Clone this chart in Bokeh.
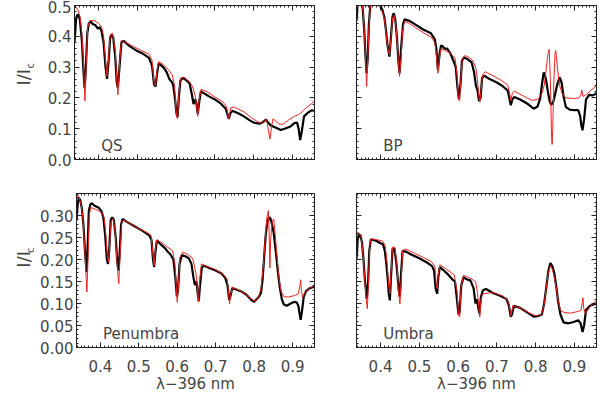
import numpy as np
from bokeh.plotting import figure
from bokeh.layouts import column, row
from bokeh.models import (Label, LinearAxis, SingleIntervalTicker, PrintfTickFormatter,
                          CustomJSTickFormatter, Range1d)
from bokeh.core.properties import value
from bokeh.embed import file_html
from bokeh.resources import INLINE

# ---------------- data (wavelength offset from 396 nm, I/Ic) ----------------
QS_OBS = [(0.338,0.381),(0.342,0.455),(0.345,0.470),(0.349,0.468),(0.352,0.452),(0.357,0.386),
 (0.361,0.290),(0.364,0.232),(0.367,0.290),(0.371,0.410),(0.375,0.443),(0.380,0.447),(0.385,0.440),
 (0.392,0.436),(0.398,0.425),(0.403,0.430),(0.408,0.415),(0.413,0.380),(0.418,0.300),(0.422,0.262),
 (0.426,0.320),(0.430,0.395),(0.434,0.405),(0.438,0.395),(0.443,0.335),(0.447,0.250),(0.450,0.233),
 (0.454,0.300),(0.459,0.380),(0.465,0.385),(0.480,0.368),(0.500,0.352),(0.515,0.343),(0.530,0.330),
 (0.538,0.305),(0.543,0.245),(0.547,0.237),(0.551,0.280),(0.555,0.311),(0.560,0.308),(0.568,0.298),
 (0.576,0.283),(0.583,0.260),(0.587,0.255),(0.592,0.245),(0.597,0.200),(0.601,0.150),(0.604,0.138),
 (0.607,0.200),(0.611,0.255),(0.616,0.265),(0.625,0.259),(0.635,0.247),(0.640,0.215),(0.645,0.180),
 (0.649,0.195),(0.652,0.185),(0.656,0.148),(0.660,0.190),(0.664,0.222),(0.672,0.215),(0.685,0.205),
 (0.700,0.195),(0.715,0.182),(0.728,0.165),(0.733,0.145),(0.736,0.132),(0.740,0.150),(0.745,0.158),
 (0.760,0.150),(0.775,0.140),(0.790,0.127),(0.800,0.120),(0.815,0.116),(0.825,0.122),(0.832,0.130),
 (0.837,0.120),(0.845,0.110),(0.855,0.105),(0.870,0.096),(0.880,0.100),(0.895,0.107),(0.905,0.118),
 (0.912,0.120),(0.916,0.100),(0.920,0.063),(0.924,0.090),(0.930,0.140),(0.940,0.152),(0.950,0.160),
 (0.957,0.158)]
QS_SYN = [(0.338,0.490),(0.342,0.495),(0.347,0.485),(0.352,0.465),(0.357,0.410),(0.361,0.320),
 (0.365,0.190),(0.368,0.300),(0.372,0.430),(0.378,0.452),(0.390,0.450),(0.400,0.442),(0.408,0.430),
 (0.413,0.400),(0.418,0.320),(0.422,0.270),(0.426,0.330),(0.430,0.405),(0.436,0.410),(0.443,0.355),
 (0.447,0.260),(0.450,0.210),(0.454,0.310),(0.459,0.387),(0.470,0.380),(0.490,0.367),(0.510,0.354),
 (0.530,0.342),(0.538,0.322),(0.543,0.250),(0.547,0.240),(0.551,0.290),(0.555,0.318),(0.565,0.310),
 (0.580,0.292),(0.590,0.275),(0.596,0.240),(0.601,0.140),(0.604,0.132),(0.607,0.210),(0.611,0.262),
 (0.620,0.268),(0.635,0.252),(0.642,0.238),(0.647,0.218),(0.651,0.195),(0.656,0.140),(0.660,0.200),
 (0.665,0.228),(0.680,0.220),(0.700,0.203),(0.720,0.188),(0.730,0.172),(0.736,0.132),(0.741,0.168),
 (0.750,0.170),(0.775,0.155),(0.795,0.135),(0.810,0.123),(0.822,0.118),(0.830,0.127),(0.834,0.130),
 (0.838,0.095),(0.842,0.066),(0.846,0.105),(0.850,0.132),(0.856,0.126),(0.865,0.115),(0.875,0.114),
 (0.890,0.128),(0.905,0.140),(0.916,0.146),(0.921,0.150),(0.930,0.162),(0.940,0.172),(0.950,0.182),
 (0.957,0.190)]

BP_OBS = [(0.338,0.450),(0.341,0.510),(0.345,0.530),(0.350,0.520),(0.354,0.490),(0.358,0.420),
 (0.361,0.340),(0.364,0.280),(0.367,0.330),(0.370,0.440),(0.374,0.505),(0.380,0.515),(0.390,0.512),
 (0.398,0.505),(0.405,0.485),(0.410,0.460),(0.414,0.420),(0.418,0.370),(0.423,0.334),(0.427,0.400),
 (0.431,0.465),(0.434,0.475),(0.438,0.455),(0.442,0.400),(0.446,0.320),(0.449,0.280),(0.453,0.360),
 (0.458,0.440),(0.462,0.455),(0.475,0.450),(0.490,0.438),(0.510,0.422),(0.530,0.410),(0.540,0.390),
 (0.544,0.360),(0.548,0.290),(0.552,0.340),(0.556,0.370),(0.560,0.368),(0.565,0.360),(0.572,0.360),
 (0.580,0.345),(0.588,0.320),(0.594,0.300),(0.598,0.240),(0.602,0.196),(0.606,0.240),(0.610,0.320),
 (0.615,0.332),(0.625,0.325),(0.635,0.315),(0.641,0.285),(0.646,0.240),(0.650,0.225),(0.654,0.190),
 (0.658,0.200),(0.662,0.265),(0.668,0.272),(0.680,0.262),(0.700,0.250),(0.715,0.238),(0.728,0.224),
 (0.733,0.195),(0.736,0.176),(0.740,0.195),(0.745,0.203),(0.760,0.195),(0.780,0.180),(0.795,0.165),
 (0.805,0.172),(0.812,0.200),(0.817,0.250),(0.821,0.283),(0.826,0.265),(0.831,0.225),(0.836,0.190),
 (0.840,0.178),(0.845,0.185),(0.850,0.210),(0.856,0.245),(0.862,0.267),(0.867,0.250),(0.872,0.205),
 (0.878,0.170),(0.888,0.162),(0.900,0.160),(0.910,0.160),(0.915,0.140),(0.918,0.110),(0.921,0.095),
 (0.925,0.130),(0.930,0.195),(0.938,0.210),(0.948,0.208),(0.957,0.215)]
BP_SYN = [(0.338,0.490),(0.342,0.520),(0.350,0.525),(0.355,0.480),(0.359,0.400),(0.362,0.310),
 (0.364,0.237),(0.367,0.320),(0.370,0.430),(0.374,0.500),(0.385,0.505),(0.395,0.500),(0.405,0.480),
 (0.410,0.455),(0.414,0.415),(0.418,0.365),(0.423,0.340),(0.427,0.395),(0.431,0.460),(0.435,0.468),
 (0.440,0.430),(0.444,0.360),(0.447,0.300),(0.449,0.270),(0.453,0.330),(0.457,0.420),(0.462,0.448),
 (0.475,0.442),(0.490,0.428),(0.510,0.412),(0.530,0.398),(0.540,0.380),(0.544,0.340),(0.548,0.280),
 (0.552,0.330),(0.556,0.360),(0.565,0.355),(0.580,0.345),(0.592,0.330),(0.597,0.280),(0.601,0.195),
 (0.604,0.190),(0.607,0.260),(0.611,0.325),(0.618,0.338),(0.630,0.330),(0.640,0.318),(0.646,0.295),
 (0.650,0.260),(0.654,0.200),(0.656,0.186),(0.659,0.220),(0.663,0.275),(0.670,0.285),(0.690,0.272),
 (0.710,0.258),(0.728,0.242),(0.733,0.215),(0.736,0.190),(0.740,0.215),(0.745,0.222),(0.770,0.205),
 (0.790,0.192),(0.805,0.195),(0.815,0.210),(0.822,0.240),(0.828,0.300),(0.832,0.345),(0.835,0.358),
 (0.838,0.260),(0.841,0.080),(0.8425,0.049),(0.844,0.090),(0.847,0.250),(0.850,0.345),(0.852,0.354),
 (0.856,0.300),(0.862,0.240),(0.868,0.215),(0.878,0.200),(0.900,0.198),(0.912,0.200),(0.916,0.208),
 (0.919,0.226),(0.922,0.205),(0.928,0.208),(0.940,0.222),(0.950,0.232),(0.957,0.240)]

PEN_OBS = [(0.338,0.289),(0.341,0.325),(0.344,0.340),(0.348,0.335),(0.352,0.315),(0.356,0.280),
 (0.360,0.220),(0.364,0.171),(0.367,0.230),(0.370,0.310),(0.374,0.325),(0.378,0.328),(0.385,0.322),
 (0.395,0.318),(0.403,0.310),(0.408,0.295),(0.413,0.250),(0.417,0.200),(0.420,0.190),(0.423,0.220),
 (0.427,0.290),(0.431,0.296),(0.435,0.290),(0.440,0.250),(0.444,0.195),(0.447,0.175),(0.450,0.210),
 (0.454,0.280),(0.458,0.292),(0.470,0.285),(0.490,0.275),(0.510,0.265),(0.527,0.255),(0.533,0.245),
 (0.537,0.200),(0.540,0.183),(0.543,0.215),(0.547,0.243),(0.553,0.238),(0.560,0.232),(0.568,0.226),
 (0.575,0.218),(0.582,0.212),(0.590,0.200),(0.595,0.160),(0.599,0.116),(0.602,0.130),(0.606,0.190),
 (0.612,0.210),(0.620,0.208),(0.630,0.203),(0.637,0.190),(0.642,0.160),(0.646,0.142),(0.650,0.150),
 (0.653,0.125),(0.656,0.106),(0.659,0.140),(0.664,0.182),(0.670,0.186),(0.685,0.180),(0.700,0.175),
 (0.715,0.168),(0.725,0.158),(0.731,0.140),(0.735,0.108),(0.738,0.115),(0.743,0.135),(0.750,0.133),
 (0.765,0.128),(0.780,0.120),(0.793,0.108),(0.800,0.104),(0.807,0.110),(0.813,0.116),(0.818,0.125),
 (0.822,0.155),(0.826,0.205),(0.830,0.255),(0.834,0.283),(0.838,0.296),(0.842,0.294),(0.846,0.282),
 (0.851,0.260),(0.855,0.228),(0.858,0.205),(0.862,0.170),(0.867,0.135),(0.872,0.110),(0.877,0.098),
 (0.885,0.095),(0.895,0.100),(0.905,0.104),(0.911,0.102),(0.915,0.095),(0.918,0.078),(0.921,0.063),
 (0.924,0.080),(0.929,0.115),(0.935,0.128),(0.945,0.135),(0.957,0.138)]
PEN_SYN = [(0.338,0.342),(0.341,0.347),(0.345,0.340),(0.350,0.325),(0.355,0.290),(0.359,0.230),
 (0.363,0.160),(0.365,0.126),(0.368,0.200),(0.371,0.300),(0.375,0.318),(0.385,0.315),(0.395,0.311),
 (0.405,0.305),(0.410,0.295),(0.414,0.260),(0.418,0.210),(0.421,0.194),(0.424,0.230),(0.428,0.288),
 (0.433,0.292),(0.438,0.270),(0.443,0.200),(0.446,0.160),(0.448,0.145),(0.451,0.200),(0.455,0.282),
 (0.460,0.290),(0.480,0.280),(0.500,0.270),(0.520,0.262),(0.532,0.255),(0.537,0.210),(0.540,0.186),
 (0.543,0.220),(0.547,0.245),(0.560,0.238),(0.575,0.228),(0.588,0.220),(0.594,0.190),(0.598,0.130),
 (0.600,0.103),(0.603,0.140),(0.607,0.205),(0.615,0.217),(0.630,0.210),(0.640,0.203),(0.645,0.185),
 (0.650,0.160),(0.653,0.125),(0.655,0.103),(0.658,0.150),(0.663,0.190),(0.675,0.185),(0.700,0.177),
 (0.720,0.166),(0.730,0.155),(0.734,0.120),(0.736,0.099),(0.739,0.120),(0.744,0.137),(0.760,0.130),
 (0.780,0.120),(0.795,0.108),(0.805,0.106),(0.812,0.116),(0.818,0.135),(0.824,0.185),(0.829,0.250),
 (0.833,0.295),(0.837,0.311),(0.839,0.260),(0.841,0.181),(0.843,0.245),(0.847,0.288),(0.851,0.292),
 (0.855,0.255),(0.860,0.200),(0.865,0.155),(0.870,0.128),(0.878,0.115),(0.890,0.115),(0.905,0.118),
 (0.915,0.122),(0.919,0.140),(0.921,0.154),(0.923,0.130),(0.926,0.114),(0.932,0.125),(0.945,0.135),
 (0.957,0.141)]

UMB_OBS = [(0.338,0.202),(0.341,0.245),(0.344,0.258),(0.348,0.255),(0.352,0.240),(0.356,0.200),
 (0.360,0.150),(0.3645,0.111),(0.368,0.150),(0.371,0.220),(0.375,0.245),(0.380,0.245),(0.390,0.242),
 (0.400,0.237),(0.406,0.235),(0.411,0.220),(0.415,0.190),(0.419,0.150),(0.421,0.125),(0.424,0.107),
 (0.427,0.160),(0.431,0.225),(0.436,0.224),(0.441,0.190),(0.444,0.160),(0.447,0.130),(0.450,0.116),
 (0.453,0.170),(0.457,0.220),(0.465,0.218),(0.480,0.211),(0.500,0.203),(0.520,0.193),(0.533,0.185),
 (0.538,0.175),(0.542,0.135),(0.546,0.122),(0.549,0.160),(0.553,0.183),(0.562,0.176),(0.575,0.165),
 (0.585,0.155),(0.592,0.150),(0.597,0.110),(0.601,0.075),(0.604,0.080),(0.608,0.140),(0.614,0.160),
 (0.622,0.155),(0.632,0.152),(0.640,0.135),(0.645,0.100),(0.649,0.110),(0.652,0.090),(0.655,0.077),
 (0.659,0.115),(0.664,0.130),(0.672,0.133),(0.690,0.124),(0.710,0.117),(0.725,0.110),(0.731,0.095),
 (0.736,0.070),(0.739,0.075),(0.744,0.095),(0.760,0.090),(0.778,0.080),(0.795,0.070),(0.808,0.072),
 (0.816,0.075),(0.822,0.100),(0.828,0.140),(0.833,0.175),(0.838,0.192),(0.843,0.185),(0.848,0.170),
 (0.853,0.140),(0.858,0.105),(0.864,0.075),(0.872,0.057),(0.885,0.055),(0.898,0.058),(0.910,0.062),
 (0.916,0.055),(0.921,0.035),(0.925,0.050),(0.930,0.085),(0.940,0.095),(0.957,0.100)]
UMB_SYN = [(0.338,0.262),(0.342,0.262),(0.346,0.258),(0.351,0.245),(0.355,0.210),(0.359,0.160),
 (0.363,0.110),(0.366,0.088),(0.369,0.150),(0.372,0.230),(0.376,0.247),(0.390,0.245),(0.405,0.242),
 (0.412,0.232),(0.417,0.190),(0.421,0.140),(0.424,0.122),(0.427,0.170),(0.431,0.228),(0.437,0.228),
 (0.442,0.190),(0.446,0.130),(0.450,0.099),(0.453,0.150),(0.457,0.220),(0.465,0.224),(0.490,0.213),
 (0.510,0.205),(0.530,0.196),(0.540,0.185),(0.544,0.140),(0.546,0.133),(0.549,0.165),(0.553,0.188),
 (0.570,0.178),(0.590,0.165),(0.597,0.130),(0.601,0.075),(0.604,0.069),(0.608,0.140),(0.614,0.164),
 (0.630,0.158),(0.645,0.150),(0.650,0.125),(0.654,0.085),(0.656,0.069),(0.659,0.110),(0.664,0.122),
 (0.690,0.125),(0.715,0.117),(0.730,0.105),(0.734,0.085),(0.737,0.072),(0.741,0.095),(0.760,0.090),
 (0.780,0.080),(0.800,0.072),(0.815,0.075),(0.822,0.098),(0.828,0.140),(0.833,0.172),(0.838,0.186),
 (0.843,0.178),(0.848,0.160),(0.853,0.137),(0.858,0.108),(0.864,0.085),(0.872,0.080),(0.890,0.078),
 (0.910,0.082),(0.917,0.085),(0.920,0.100),(0.922,0.113),(0.924,0.090),(0.928,0.077),(0.940,0.092),
 (0.950,0.102),(0.957,0.107)]

PANEL_NAMES = ["QS", "BP", "Penumbra", "Umbra"]
Y_LABEL_MAIN = "I/I"
Y_LABEL_SUB = "c"
X_LABEL = "λ−396 nm"
X_RANGE = (0.338, 0.957)
Y_RANGE_TOP = (0.0, 0.5)
Y_RANGE_BOTTOM = (0.0, 0.35)

FONT = "DejaVu Sans"
TXT = "#444444"
AX = "#222222"
LAB_W = 37


def style_axis(ax, show_labels, fmt=None):
    ax.axis_line_color = AX
    ax.major_tick_line_color = AX
    ax.minor_tick_line_color = AX
    ax.major_tick_in = 5
    ax.major_tick_out = 0
    ax.minor_tick_in = 2
    ax.minor_tick_out = 0
    ax.major_label_text_font = FONT
    ax.major_label_text_font_size = "15px"
    ax.major_label_text_color = TXT
    if show_labels:
        if fmt is not None:
            ax.formatter = PrintfTickFormatter(format=fmt)
    else:
        ax.formatter = CustomJSTickFormatter(code="return ''")
        ax.major_label_standoff = 0


def ylabel_fig(h, main_y, sub_y):
    # narrow strip that carries the rotated y-axis title "I/I_c" (pixel coordinates)
    q = figure(width=LAB_W, height=h, x_range=Range1d(0, LAB_W), y_range=Range1d(0, h),
               x_axis_type=None, y_axis_type=None, output_backend="svg", toolbar_location=None,
               min_border=0, min_border_left=0, min_border_right=0, min_border_top=0,
               min_border_bottom=0)
    q.outline_line_color = None
    q.xgrid.visible = False
    q.ygrid.visible = False
    q.text(x=[23], y=[main_y], text=[Y_LABEL_MAIN], angle=np.pi / 2,
           text_font=value(FONT), text_font_size="18px", text_color=TXT,
           text_align="center", text_baseline="middle")
    q.text(x=[30], y=[sub_y], text=[Y_LABEL_SUB], angle=np.pi / 2,
           text_font=value(FONT), text_font_size="10px", text_color=TXT,
           text_align="center", text_baseline="middle")
    return q


def panel(obs, syn, name, yr, yint, fmt, left, bottom):
    w = (324 - LAB_W) if left else 276
    h = 176 if not bottom else 220
    p = figure(width=w, height=h, x_range=Range1d(*X_RANGE), y_range=Range1d(*yr),
               output_backend="svg", toolbar_location=None,
               min_border_left=(74 - LAB_W) if left else 32, min_border_right=10 if left else 4,
               min_border_top=5 if not bottom else 17, min_border_bottom=49 if bottom else 17)
    p.xgrid.visible = False
    p.ygrid.visible = False
    p.outline_line_color = AX
    p.background_fill_color = "white"
    p.border_fill_color = "white"

    xt = lambda: SingleIntervalTicker(interval=0.1, num_minor_ticks=10)
    yt = lambda: SingleIntervalTicker(interval=yint, num_minor_ticks=5)

    p.xaxis.ticker = xt()
    p.yaxis.ticker = yt()
    style_axis(p.xaxis[0], bottom, "%.1f")
    style_axis(p.yaxis[0], left, fmt)
    if bottom:
        p.xaxis.major_label_standoff = 12
        p.xaxis.axis_label = X_LABEL
        p.xaxis.axis_label_standoff = 0
        p.xaxis.axis_label_text_font = FONT
        p.xaxis.axis_label_text_font_size = "15px"
        p.xaxis.axis_label_text_font_style = "normal"
        p.xaxis.axis_label_text_color = TXT
    if left:
        p.yaxis.major_label_standoff = 3

    top_ax = LinearAxis(ticker=xt())
    style_axis(top_ax, False)
    p.add_layout(top_ax, "above")
    right_ax = LinearAxis(ticker=yt())
    style_axis(right_ax, False)
    p.add_layout(right_ax, "right")

    ox, oy = zip(*obs)
    sx, sy = zip(*syn)
    p.line(list(ox), list(oy), line_color="black", line_width=2.2)
    p.line(list(sx), list(sy), line_color="#ee2222", line_width=1)

    p.add_layout(Label(x=0.407, y=(yr[1] - yr[0]) * 0.085 + yr[0], text=name,
                       text_font=FONT, text_font_size="15px", text_color=TXT,
                       text_align="left", text_baseline="middle"))
    return p


p1 = panel(QS_OBS, QS_SYN, PANEL_NAMES[0], Y_RANGE_TOP, 0.1, "%.1f", True, False)
p2 = panel(BP_OBS, BP_SYN, PANEL_NAMES[1], Y_RANGE_TOP, 0.1, "%.1f", False, False)
p3 = panel(PEN_OBS, PEN_SYN, PANEL_NAMES[2], Y_RANGE_BOTTOM, 0.05, "%.2f", True, True)
p4 = panel(UMB_OBS, UMB_SYN, PANEL_NAMES[3], Y_RANGE_BOTTOM, 0.05, "%.2f", False, True)
l1 = ylabel_fig(176, 176 - 82, 176 - 69)
l3 = ylabel_fig(220, 220 - (270 - 176), 220 - (257 - 176))

layout = column(row(l1, p1, p2), row(l3, p3, p4))
open("out.html", "w").write(file_html(layout, INLINE))
